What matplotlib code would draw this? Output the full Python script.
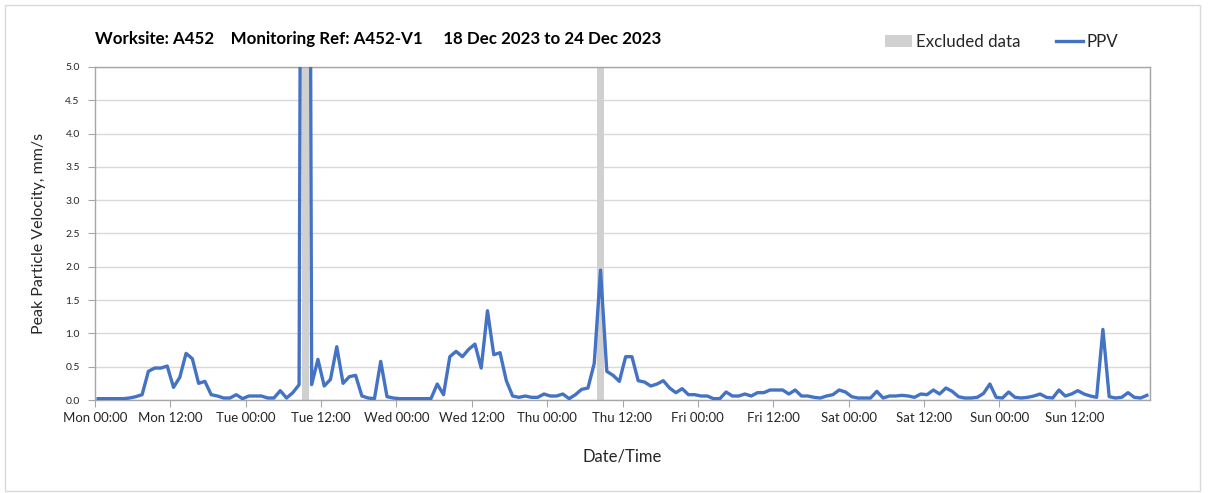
import matplotlib
matplotlib.use("Agg")
import matplotlib.pyplot as plt
import matplotlib.dates as mdates
from matplotlib.patches import Patch, Rectangle
from matplotlib.lines import Line2D
import pandas as pd

# hourly PPV, mm/s (values plotted at the middle of each hour)
start = "2023-12-18 00:30"
ppv = [
    0.02, 0.02, 0.02, 0.02, 0.02, 0.03, 0.05, 0.08,
    0.43, 0.48, 0.48, 0.51, 0.19, 0.34, 0.70, 0.62,
    0.25, 0.28, 0.08, 0.06, 0.03, 0.03, 0.08, 0.02,
    0.06, 0.06, 0.06, 0.03, 0.03, 0.14, 0.03, 0.11,
    0.23, 30.0, 0.23, 0.61, 0.21, 0.31, 0.80, 0.25,
    0.35, 0.37, 0.06, 0.03, 0.02, 0.58, 0.05, 0.03,
    0.02, 0.02, 0.02, 0.02, 0.02, 0.02, 0.24, 0.08,
    0.65, 0.73, 0.65, 0.76, 0.84, 0.48, 1.34, 0.68,
    0.71, 0.29, 0.06, 0.04, 0.06, 0.04, 0.04, 0.09,
    0.06, 0.06, 0.09, 0.02, 0.08, 0.16, 0.18, 0.55,
    1.95, 0.43, 0.37, 0.28, 0.65, 0.65, 0.29, 0.27,
    0.21, 0.24, 0.29, 0.18, 0.11, 0.17, 0.08, 0.08,
    0.06, 0.06, 0.02, 0.02, 0.12, 0.06, 0.06, 0.09,
    0.06, 0.11, 0.11, 0.15, 0.15, 0.15, 0.09, 0.15,
    0.06, 0.06, 0.04, 0.03, 0.06, 0.08, 0.15, 0.12,
    0.05, 0.03, 0.03, 0.03, 0.13, 0.03, 0.06, 0.06,
    0.07, 0.06, 0.04, 0.09, 0.08, 0.15, 0.09, 0.18,
    0.13, 0.05, 0.03, 0.03, 0.04, 0.10, 0.24, 0.04,
    0.03, 0.12, 0.04, 0.03, 0.04, 0.06, 0.09, 0.04,
    0.03, 0.15, 0.06, 0.09, 0.14, 0.09, 0.06, 0.04,
    1.06, 0.05, 0.03, 0.04, 0.11, 0.04, 0.03, 0.07,
]
excluded = [33, 80]   # hour indices flagged as excluded
ymax = 5.0

times = pd.date_range(start, periods=len(ppv), freq="h")
excl_times = [times[i] for i in excluded]
t0, t1 = pd.Timestamp("2023-12-18"), pd.Timestamp("2023-12-25")
xticks = pd.date_range(t0, t1, freq="12h")[:-1]

plt.rcParams["font.family"] = ["Lato", "DejaVu Sans"]
txt = "#262626"

fig = plt.figure(figsize=(12.08, 4.93), dpi=100)
ax = fig.add_axes([95 / 1208, 1 - 400 / 493, 1055 / 1208, 333 / 493])

ax.bar(excl_times, [ymax] * len(excl_times), width=1 / 24, color="#d0d0d0", zorder=1)
ax.plot(times, ppv, color="#4472c4", lw=2.4, zorder=3)

ax.set_xlim(t0, t1)
ax.set_ylim(0, ymax)
ax.set_yticks([i * 0.5 for i in range(11)])
ax.yaxis.set_major_formatter(lambda v, p: f"{v:.1f}")

ax.set_xticks(xticks)
ax.xaxis.set_major_formatter(mdates.DateFormatter("%a %H:%M"))
ax.xaxis.set_minor_locator(mdates.DayLocator())
ax.grid(False)
ax.grid(axis="y", color="#d9d9d9", lw=1)
ax.grid(axis="x", which="minor", color="#d9d9d9", lw=1)
ax.set_axisbelow(True)

ax.tick_params(axis="x", which="major", length=5, color="#a6a6a6", labelsize=9.5,
               labelcolor=txt, pad=4)
ax.tick_params(axis="x", which="minor", length=0)
ax.tick_params(axis="y", length=5, color="#a6a6a6", labelsize=7.5, labelcolor=txt, pad=6)
for s in ax.spines.values():
    s.set_color("#a6a6a6")
    s.set_linewidth(1)

ax.set_ylabel("Peak Particle Velocity, mm/s", fontsize=11.5, color=txt, labelpad=14)
ax.set_xlabel("Date/Time", fontsize=12, color=txt, labelpad=17)

fig.text(95 / 1208, 1 - 39 / 493,
         "Worksite: A452    Monitoring Ref: A452-V1     18 Dec 2023 to 24 Dec 2023",
         fontsize=12.2, fontweight="bold", color="black", va="center", ha="left")

handles = [Patch(facecolor="#d0d0d0", edgecolor="none"),
           Line2D([], [], color="#4472c4", lw=2.4)]
fig.legend(handles, ["Excluded data", "PPV"], ncol=2, frameon=False,
           loc="center right", bbox_to_anchor=(1133 / 1208, 1 - 42 / 493),
           fontsize=12.2, handlelength=1.6, handleheight=0.7, handletextpad=0.2,
           columnspacing=2.1, labelcolor=txt)

# thin frame around the whole chart
fig.patches.append(Rectangle((5 / 1208, 2 / 493), 1195 / 1208, 486 / 493,
                             transform=fig.transFigure, fill=False,
                             edgecolor="#d9d9d9", lw=1))

fig.savefig("out.png", dpi=100)
